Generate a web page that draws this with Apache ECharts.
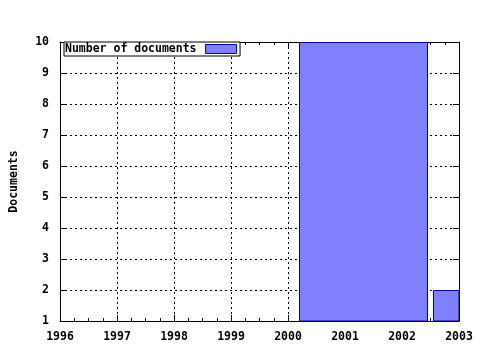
<!DOCTYPE html>
<html>
<head>
<meta charset="utf-8">
<script src="https://cdn.jsdelivr.net/npm/echarts@6/dist/echarts.min.js"></script>
<style>html,body{margin:0;padding:0;background:#fff}#c{width:480px;height:350px}</style>
</head>
<body>
<div id="c"></div>
<script>
const seriesName = 'Number of documents';
const barStart = [2000.19, 2002.54];
const barEnd = [2002.44, 2004.79];
const documents = [10, 2];
const xMin = 1996, xMax = 2003;
const yMin = 1, yMax = 10;
const yTitle = 'Documents';

const FONT = 'DejaVu Sans Mono';
const chart = echarts.init(document.getElementById('c'), null, {renderer: 'canvas'});
const data = barStart.map((s, i) => [s, barEnd[i], documents[i]]);
const labelStyle = {color: '#000', fontFamily: FONT, fontWeight: 'bold', fontSize: 11.5};
const dotted = {show: true, lineStyle: {color: '#000', type: [2, 3], width: 1}};

chart.setOption({
  animation: false,
  backgroundColor: '#fff',
  grid: {left: 58, right: 21, top: 42, bottom: 29, containLabel: false},
  legend: {
    left: 64, top: 42,
    data: [{name: seriesName, icon: 'rect',
            itemStyle: {color: '#8080ff', borderColor: '#0000b0', borderWidth: 1}}],
    align: 'right',
    itemWidth: 31, itemHeight: 9,
    padding: [1, 3, 1, 1],
    borderColor: '#000', borderWidth: 1,
    backgroundColor: '#fff',
    textStyle: {color: '#000', fontFamily: FONT, fontWeight: 'bold', fontSize: 11.5, padding: [0, 4, 0, 0]},
    selectedMode: false
  },
  xAxis: [{
    type: 'value', min: xMin, max: xMax, interval: 1,
    axisLine: {show: true, lineStyle: {color: '#000', width: 1}},
    axisTick: {show: true, inside: true, length: 6, lineStyle: {color: '#000'}},
    minorTick: {show: true, splitNumber: 4, length: 3, lineStyle: {color: '#000'}},
    axisLabel: Object.assign({margin: 10, formatter: v => String(v)}, labelStyle),
    splitLine: dotted
  }, {
    type: 'value', min: xMin, max: xMax, interval: 1, position: 'top',
    axisLine: {show: true, onZero: false, lineStyle: {color: '#000', width: 1}},
    axisTick: {show: true, inside: true, length: 6, lineStyle: {color: '#000'}},
    minorTick: {show: true, splitNumber: 4, length: 3, lineStyle: {color: '#000'}},
    axisLabel: {show: false},
    splitLine: {show: false}
  }],
  yAxis: [{
    type: 'value', min: yMin, max: yMax, interval: 1,
    name: yTitle, nameLocation: 'middle', nameGap: 40, nameRotate: 90,
    nameTextStyle: {color: '#000', fontFamily: FONT, fontWeight: 'bold', fontSize: 11.5},
    axisLine: {show: true, onZero: false, lineStyle: {color: '#000', width: 1}},
    axisTick: {show: true, inside: true, length: 6, lineStyle: {color: '#000'}},
    axisLabel: Object.assign({margin: 11}, labelStyle),
    splitLine: dotted
  }, {
    type: 'value', min: yMin, max: yMax, interval: 1, position: 'right',
    axisLine: {show: true, onZero: false, lineStyle: {color: '#000', width: 1}},
    axisTick: {show: true, inside: true, length: 6, lineStyle: {color: '#000'}},
    axisLabel: {show: false},
    splitLine: {show: false}
  }],
  series: [{
    name: seriesName,
    type: 'custom',
    clip: true,
    itemStyle: {color: '#8080ff', borderColor: '#0000b0', borderWidth: 1},
    renderItem: function (params, api) {
      const p0 = api.coord([api.value(0), api.value(2)]);
      const p1 = api.coord([api.value(1), yMin]);
      const rect = echarts.graphic.clipRectByRect(
        {x: Math.round(p0[0]) + 0.5, y: Math.round(p0[1]) + 0.5,
         width: Math.round(p1[0] - p0[0]), height: Math.round(p1[1] - p0[1])},
        {x: params.coordSys.x, y: params.coordSys.y,
         width: params.coordSys.width, height: params.coordSys.height});
      if (!rect) return;
      return {
        type: 'rect', shape: rect,
        style: {fill: '#8080ff', stroke: '#0000b0', lineWidth: 1}
      };
    },
    encode: {x: [0, 1], y: 2},
    data: data
  }]
});
</script>
</body>
</html>
